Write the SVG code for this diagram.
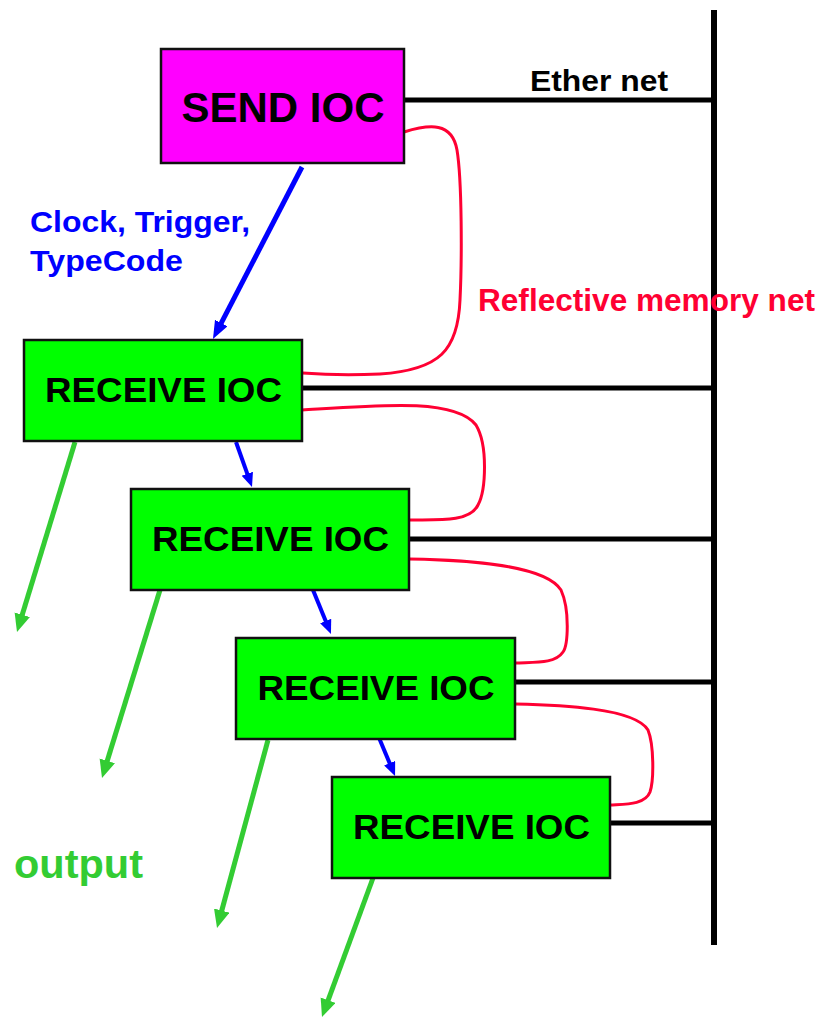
<svg xmlns="http://www.w3.org/2000/svg" width="823" height="1018" viewBox="0 0 823 1018">
<style>
.box{stroke:#111;stroke-width:2.5}
.recv{fill:#00ff00}
.send{fill:#ff00ff}
.lbl{font-family:"Liberation Sans",Arial,sans-serif;font-weight:bold}
.eth{stroke:#000;fill:none}
.rm{stroke:#ff0033;stroke-width:3;fill:none}
.blue{stroke:#0000ff;fill:none}
.green{stroke:#33cc33;stroke-width:5;fill:none}
</style>
<defs>
<marker id="ab" markerUnits="userSpaceOnUse" markerWidth="20" markerHeight="16" refX="4" refY="7" orient="auto"><path d="M0,0 L18,7 L0,14 z" fill="#0000ff"/></marker>
<marker id="abs" markerUnits="userSpaceOnUse" markerWidth="16" markerHeight="14" refX="3" refY="6" orient="auto"><path d="M0,0 L14,6 L0,12 z" fill="#0000ff"/></marker>
<marker id="ag" markerUnits="userSpaceOnUse" markerWidth="20" markerHeight="18" refX="4" refY="8" orient="auto"><path d="M0,0 L18,8 L0,16 z" fill="#33cc33"/></marker>
</defs>
<g id="connectors">
<line class="eth" x1="714" y1="10" x2="714" y2="945" stroke-width="6"/>
<line class="eth" x1="404" y1="100" x2="714" y2="100" stroke-width="5"/>
<line class="eth" x1="302" y1="388" x2="714" y2="388" stroke-width="5"/>
<line class="eth" x1="409" y1="539" x2="714" y2="539" stroke-width="5"/>
<line class="eth" x1="515" y1="682" x2="714" y2="682" stroke-width="5"/>
<line class="eth" x1="610" y1="823" x2="714" y2="823" stroke-width="5"/>
<path class="rm" d="M404,132 C430,124 452,122 457,150 C462,180 462,260 460,300 C458,350 440,370 380,374 C340,376 315,374 302,373"/>
<path class="rm" d="M302,410 C380,405 455,398 476,425 C488,445 486,490 478,505 C470,522 440,520 409,520"/>
<path class="rm" d="M409,559 C470,560 545,565 561,590 C570,610 568,645 563,652 C555,664 535,662 515,663"/>
<path class="rm" d="M515,704 C560,705 635,708 648,730 C654,745 654,780 650,792 C645,805 625,804 610,805"/>
<line class="blue" x1="302" y1="167" x2="219.4" y2="326.6" stroke-width="5" marker-end="url(#ab)"/>
<line class="blue" x1="236" y1="442" x2="248.3" y2="476.6" stroke-width="4" marker-end="url(#abs)"/>
<line class="blue" x1="313" y1="590" x2="326.8" y2="623.8" stroke-width="4" marker-end="url(#abs)"/>
<line class="blue" x1="377" y1="733" x2="390.8" y2="765.9" stroke-width="4" marker-end="url(#abs)"/>
<line class="green" x1="75" y1="442" x2="21.1" y2="618.6" marker-end="url(#ag)"/>
<line class="green" x1="160" y1="590" x2="106.1" y2="764.6" marker-end="url(#ag)"/>
<line class="green" x1="268" y1="740" x2="220.7" y2="914.5" marker-end="url(#ag)"/>
<line class="green" x1="373" y1="878" x2="326.8" y2="1003.9" marker-end="url(#ag)"/>
</g>
<g id="send">
<rect class="box send" x="161" y="49" width="243" height="114"/>
<text class="lbl" x="283" y="122" font-size="42" text-anchor="middle" textLength="203" lengthAdjust="spacingAndGlyphs">SEND IOC</text>
</g>
<g id="recv1">
<rect class="box recv" x="24" y="340" width="278" height="101"/>
<text class="lbl" x="163.5" y="402" font-size="35" text-anchor="middle" textLength="237" lengthAdjust="spacingAndGlyphs">RECEIVE IOC</text>
</g>
<g id="recv2">
<rect class="box recv" x="131" y="489" width="278" height="101"/>
<text class="lbl" x="270.5" y="551" font-size="35" text-anchor="middle" textLength="237" lengthAdjust="spacingAndGlyphs">RECEIVE IOC</text>
</g>
<g id="recv3">
<rect class="box recv" x="236" y="638" width="279" height="101"/>
<text class="lbl" x="376" y="700" font-size="35" text-anchor="middle" textLength="237" lengthAdjust="spacingAndGlyphs">RECEIVE IOC</text>
</g>
<g id="recv4">
<rect class="box recv" x="332" y="777" width="278" height="101"/>
<text class="lbl" x="471.5" y="839" font-size="35" text-anchor="middle" textLength="237" lengthAdjust="spacingAndGlyphs">RECEIVE IOC</text>
</g>
<g id="labels">
<text class="lbl" x="530" y="91" font-size="30" fill="#000" textLength="138" lengthAdjust="spacingAndGlyphs">Ether net</text>
<text class="lbl" x="30" y="232" font-size="30" fill="#0000ff" textLength="220" lengthAdjust="spacingAndGlyphs">Clock, Trigger,</text>
<text class="lbl" x="30" y="271" font-size="30" fill="#0000ff" textLength="153" lengthAdjust="spacingAndGlyphs">TypeCode</text>
<text class="lbl" x="478" y="311" font-size="30.5" fill="#ff0033" textLength="337" lengthAdjust="spacingAndGlyphs">Reflective memory net</text>
<text class="lbl" x="14" y="878" font-size="41" fill="#33cc33" textLength="129" lengthAdjust="spacingAndGlyphs">output</text>
</g>
</svg>
